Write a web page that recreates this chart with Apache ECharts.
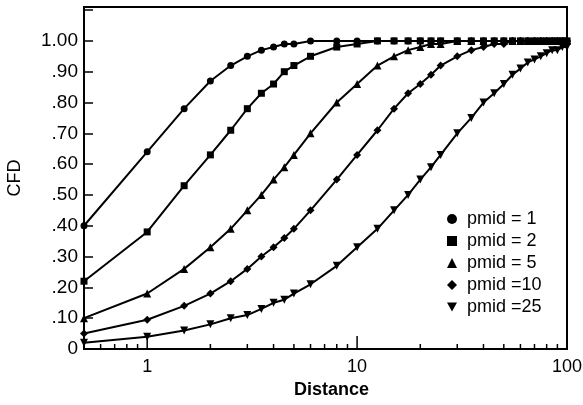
<!DOCTYPE html>
<html>
<head>
<meta charset="UTF-8">
<title>CFD vs Distance</title>
<script src="https://cdn.jsdelivr.net/npm/echarts@6/dist/echarts.min.js"></script>
<style>
    body { margin: 0; }
    #root { width: 583px; height: 405px; }
</style>
</head>
<body>
<div id="root"></div>
<script>
    var distances = [0.5, 1, 1.5, 2, 2.5, 3, 3.5, 4, 4.5, 5, 6, 8, 10, 12.5, 15, 17.5, 20, 22.5, 25,
        30, 35, 40, 45, 50, 55, 60, 65, 70, 75, 80, 85, 90, 95, 100];

    var pmid1 = [0.40, 0.64, 0.78, 0.87, 0.92, 0.95, 0.97, 0.98, 0.99, 0.99, 1.0, 1.0, 1.0,
        1.0, 1.0, 1.0, 1.0, 1.0, 1.0, 1.0, 1.0, 1.0, 1.0, 1.0, 1.0, 1.0, 1.0, 1.0, 1.0, 1.0, 1.0, 1.0, 1.0, 1.0];
    var pmid2 = [0.22, 0.38, 0.53, 0.63, 0.71, 0.78, 0.83, 0.86, 0.90, 0.92, 0.95, 0.98, 0.99,
        1.0, 1.0, 1.0, 1.0, 1.0, 1.0, 1.0, 1.0, 1.0, 1.0, 1.0, 1.0, 1.0, 1.0, 1.0, 1.0, 1.0, 1.0, 1.0, 1.0, 1.0];
    var pmid5 = [0.10, 0.18, 0.26, 0.33, 0.39, 0.45, 0.50, 0.55, 0.59, 0.63, 0.70, 0.80, 0.86,
        0.92, 0.95, 0.97, 0.98, 0.99, 0.99, 1.0, 1.0, 1.0, 1.0, 1.0, 1.0, 1.0, 1.0, 1.0, 1.0, 1.0, 1.0, 1.0, 1.0, 1.0];
    var pmid10 = [0.05, 0.095, 0.14, 0.18, 0.22, 0.26, 0.30, 0.33, 0.36, 0.39, 0.45, 0.55, 0.63,
        0.71, 0.78, 0.83, 0.86, 0.89, 0.92, 0.95, 0.97, 0.98, 0.99, 0.99, 1.0, 1.0, 1.0, 1.0, 1.0, 1.0, 1.0, 1.0, 1.0, 1.0];
    var pmid25 = [0.02, 0.04, 0.06, 0.08, 0.10, 0.11, 0.13, 0.15, 0.16, 0.18, 0.21, 0.27, 0.33,
        0.39, 0.45, 0.50, 0.55, 0.59, 0.63, 0.70, 0.75, 0.80, 0.83, 0.86, 0.89, 0.91, 0.93, 0.94, 0.95, 0.96, 0.97, 0.97, 0.98, 0.98];

    var seriesNames = ['pmid = 1', 'pmid = 2', 'pmid = 5', 'pmid =10', 'pmid =25'];
    var seriesValues = [pmid1, pmid2, pmid5, pmid10, pmid25];

    // log axis minor/major tick positions (drawn by hand, echarts log minor ticks are not log-spaced)
    var minorTicks = [0.6, 0.7, 0.8, 0.9, 2, 3, 4, 5, 6, 7, 8, 9, 20, 30, 40, 50, 60, 70, 80, 90];
    var majorTicks = [1, 10];

    var font = 'Liberation Sans, Arial, Helvetica, sans-serif';
    var downTriangle = 'path://M0,0L10,0L5,9Z';
    var symbols = ['circle', 'rect', 'triangle', 'diamond', downTriangle];
    var sizes = [7, 7, 8, 8, 8];

    var chart = echarts.init(document.getElementById('root'));

    var series = seriesValues.map(function (vals, i) {
        return {
            name: seriesNames[i],
            type: 'line',
            symbol: symbols[i],
            symbolSize: sizes[i],
            showAllSymbol: true,
            lineStyle: { color: '#000', width: 2 },
            itemStyle: { color: '#000' },
            data: distances.map(function (d, j) { return [d, vals[j]]; }),
            z: 3
        };
    });

    var tickData = minorTicks.map(function (v) { return [v, 0, 5]; })
        .concat(majorTicks.map(function (v) { return [v, 0, 13]; }));

    series.push({
        type: 'custom',
        silent: true,
        renderItem: function (params, api) {
            var p = api.coord([api.value(0), api.value(1)]);
            return {
                type: 'line',
                shape: { x1: p[0], y1: p[1], x2: p[0], y2: p[1] - api.value(2) },
                style: { stroke: '#000', lineWidth: 1.5 }
            };
        },
        data: tickData,
        z: 2
    });

    chart.setOption({
        animation: false,
        textStyle: { fontFamily: font },
        grid: {
            left: 84, right: 16, top: 7, bottom: 56,
            outerBoundsMode: 'none',
            containLabel: false,
            show: true, borderColor: '#000', borderWidth: 2
        },
        legend: {
            orient: 'vertical',
            left: 442,
            top: 205,
            itemWidth: 10,
            itemHeight: 10,
            itemGap: 4,
            textStyle: { fontSize: 18, color: '#000', fontFamily: font, lineHeight: 18, padding: [0, 0, 0, 5] },
            data: seriesNames.map(function (n, i) {
                return { name: n, icon: symbols[i], itemStyle: { color: '#000' } };
            })
        },
        xAxis: {
            type: 'log',
            logBase: 10,
            min: 0.5,
            max: 100,
            name: 'Distance',
            nameLocation: 'middle',
            nameGap: 32,
            nameTextStyle: { fontSize: 18, fontWeight: 'bold', color: '#000', fontFamily: font, padding: [0, 0, 0, 12] },
            axisLine: { lineStyle: { color: '#000', width: 2 } },
            axisTick: { show: false },
            splitLine: { show: false },
            axisLabel: {
                showMinLabel: false,
                fontSize: 18, color: '#000', fontFamily: font, margin: 9,
                formatter: function (v) { return String(Math.round(v)); }
            }
        },
        yAxis: {
            type: 'value',
            min: 0,
            max: 1.11,
            interval: 0.1,
            name: 'CFD',
            nameLocation: 'middle',
            nameGap: 60,
            nameRotate: 90,
            nameTextStyle: { fontSize: 18, color: '#000', fontFamily: font },
            axisLine: { lineStyle: { color: '#000', width: 2 } },
            axisTick: { inside: true, length: 9, lineStyle: { color: '#000', width: 1.5 } },
            splitLine: { show: false },
            axisLabel: {
                fontSize: 19, color: '#000', fontFamily: font, margin: 6,
                formatter: function (v) {
                    if (v > 1.05) return '';
                    if (v < 0.05) return '0';
                    if (v > 0.95) return '1.00';
                    return '.' + Math.round(v * 100);
                }
            }
        },
        series: series
    });
</script>
</body>
</html>
